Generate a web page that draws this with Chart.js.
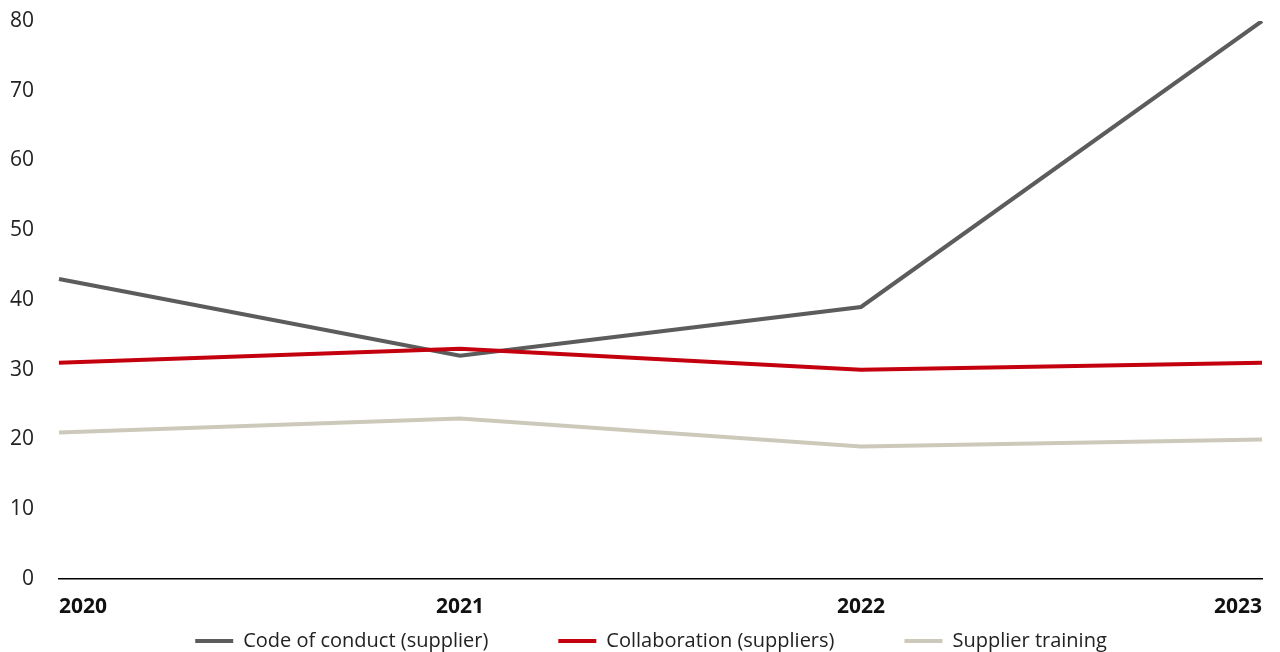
<!DOCTYPE html>
<html lang="en">
<head>
    <meta charset="UTF-8">
    <title>Supplier engagement</title>
    <script src="https://cdn.jsdelivr.net/npm/chart.js"></script>
    <style>
        html, body { margin: 0; padding: 0; background: #fff; }
        #wrap { width: 1280px; height: 652px; }
    </style>
</head>
<body>
    <div id="wrap"><canvas id="chart"></canvas></div>

    <script>
        // values
        const years = ['2020', '2021', '2022', '2023'];
        const codeOfConduct = [43, 32, 39, 80];
        const collaboration = [31, 33, 30, 31];
        const supplierTraining = [21, 23, 19, 20];
        const yTicks = [0, 10, 20, 30, 40, 50, 60, 70, 80];

        const FONT = '"Open Sans", "Noto Sans", sans-serif';
        const LEGEND_GAP = 70;

        // year labels: first one left aligned, last one right aligned
        const xLabels = {
            id: 'xLabels',
            afterDraw(chart) {
                const { ctx, scales: { x } } = chart;
                ctx.save();
                ctx.font = 'bold 21px ' + FONT;
                ctx.fillStyle = '#111';
                ctx.textBaseline = 'middle';
                years.forEach((yr, i) => {
                    ctx.textAlign = i === 0 ? 'left' : (i === years.length - 1 ? 'right' : 'center');
                    ctx.fillText(yr, x.getPixelForValue(i), x.top + 28);
                });
                ctx.restore();
            }
        };

        // legend padding is used for both the gap between items and the box height,
        // so keep the wide gap but squeeze the box
        const tightLegend = {
            id: 'tightLegend',
            beforeUpdate(chart) {
                const lg = chart.legend;
                if (!lg || lg._tight) return;
                lg._tight = true;
                const fit = lg.fit.bind(lg);
                lg.fit = function () { fit(); this.height = 33; };
                const draw = lg.draw.bind(lg);
                lg.draw = function () {
                    const t = this.top, l = this.left, r = this.right;
                    this.top = t - 58;
                    this.left = l + 20;
                    this.right = r + 20;
                    draw();
                    this.top = t;
                    this.left = l;
                    this.right = r;
                };
            }
        };

        new Chart(document.getElementById('chart'), {
            type: 'line',
            data: {
                labels: years,
                datasets: [
                    { label: 'Code of conduct (supplier)', data: codeOfConduct, borderColor: '#5c5c5c', backgroundColor: '#5c5c5c', borderWidth: 4, order: 3 },
                    { label: 'Collaboration (suppliers)', data: collaboration, borderColor: '#c4000f', backgroundColor: '#c4000f', borderWidth: 4, order: 1 },
                    { label: 'Supplier training', data: supplierTraining, borderColor: '#ccc9bb', backgroundColor: '#ccc9bb', borderWidth: 4, order: 2 }
                ]
            },
            options: {
                responsive: true,
                maintainAspectRatio: false,
                animation: false,
                layout: { padding: { top: 21, right: 18, left: 0, bottom: 0 } },
                elements: {
                    line: { tension: 0 },
                    point: { radius: 0 }
                },
                plugins: {
                    tooltip: { enabled: false },
                    legend: {
                        position: 'bottom',
                        labels: {
                            usePointStyle: true,
                            pointStyle: 'line',
                            pointStyleWidth: 38,
                            padding: LEGEND_GAP,
                            color: '#222',
                            font: { family: FONT, size: 20 },
                            sort: (a, b) => a.datasetIndex - b.datasetIndex
                        }
                    }
                },
                scales: {
                    x: {
                        grid: { display: false, drawTicks: false },
                        border: { display: true, color: '#000', width: 1.5 },
                        ticks: { display: false },
                        afterFit: s => { s.height = 40; }
                    },
                    y: {
                        min: 0,
                        max: 80,
                        afterBuildTicks: s => { s.ticks = yTicks.map(v => ({ value: v })); },
                        // tick padding would otherwise push the plot top down
                        afterFit: s => { s.width = 59; s.paddingTop = 0; s.paddingBottom = 0; },
                        grid: { display: false, drawTicks: false },
                        border: { display: false },
                        ticks: {
                            padding: 25,
                            color: '#222',
                            font: { family: FONT, size: 21 }
                        }
                    }
                }
            },
            plugins: [xLabels, tightLegend]
        });
    </script>
</body>
</html>
